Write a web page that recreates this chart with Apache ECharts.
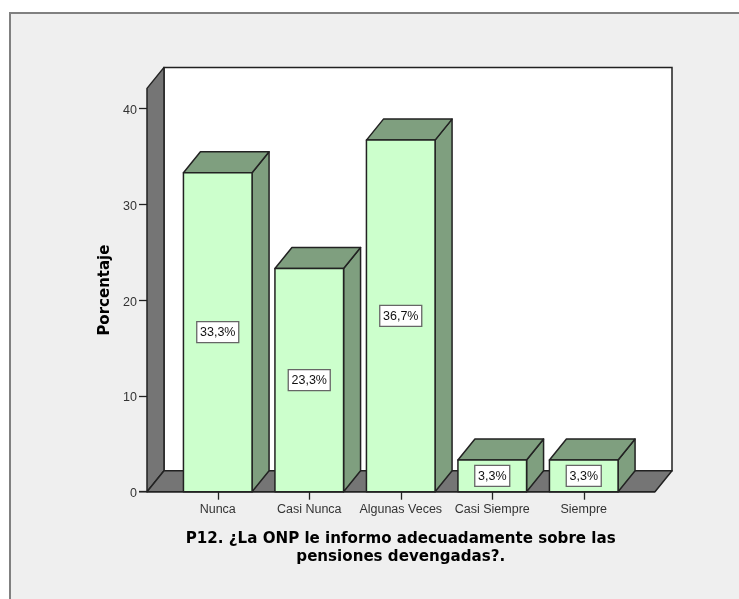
<!DOCTYPE html>
<html><head><meta charset="utf-8">
<style>html,body{margin:0;padding:0;background:#fff}#c{width:739px;height:599px}</style>
<script src="https://cdn.jsdelivr.net/npm/echarts@6/dist/echarts.min.js"></script>
</head><body><div id="c"></div>
<script>
const categories = ['Nunca','Casi Nunca','Algunas Veces','Casi Siempre','Siempre'];
const percentages = [33.3,23.3,36.7,3.3,3.3];
const percentLabels = ['33,3%','23,3%','36,7%','3,3%','3,3%'];
const axisTop = 42.1;
const DX = 17, DY = 21;
const face = '#CCFFCC', shade = '#7F9F7F', wall = '#757575', edge = '#222222';
const chart = echarts.init(document.getElementById('c'), null, {renderer:'canvas'});
function poly(points, fill, z){
  return {type:'polygon', z2:z||1, shape:{points}, style:{fill, stroke:edge, lineWidth:1.5, lineJoin:'round'}};
}
chart.setOption({
  animation:false,
  backgroundColor:'#fff',
  graphic:[{type:'rect', z:-10, shape:{x:10,y:13,width:760,height:620},
    style:{fill:'#EFEFEF', stroke:'#808080', lineWidth:2}}],
  grid:{left:172, top:108.5, width:457.5, height:383.2, containLabel:false},
  xAxis:{type:'category', data:categories,
    axisLine:{show:false}, axisTick:{show:true, alignWithLabel:true, length:8, lineStyle:{color:'#222', width:1.3}},
    axisLabel:{color:'#333', fontFamily:'Liberation Sans', fontSize:12.5, margin:11, interval:0},
    name:'P12. ¿La ONP le informo adecuadamente sobre las\npensiones devengadas?.',
    nameLocation:'middle', nameGap:38,
    nameTextStyle:{color:'#000', fontFamily:'DejaVu Sans', fontWeight:'bold', fontSize:15.1, lineHeight:18}},
  yAxis:{type:'value', min:0, max:40, interval:10, offset:25,
    splitLine:{show:false},
    axisLine:{show:false},
    axisTick:{show:true, length:8, lineStyle:{color:'#222', width:1.3}},
    axisLabel:{margin:10, formatter:'{v|{value}}',
      rich:{v:{color:'#333', fontFamily:'Liberation Sans', fontSize:12.5, padding:[4,0,0,0]}}},
    name:'Porcentaje', nameLocation:'middle', nameGap:17,
    nameTextStyle:{color:'#000', fontFamily:'DejaVu Sans', fontWeight:'bold', fontSize:15, padding:[0,0,0,20]}},
  series:[
    {type:'custom', clip:false, silent:true, z:1, data:[[0]],
      renderItem(params, api){
        const g = params.coordSys;
        const y0 = api.coord([0,0])[1], yT = api.coord([0,axisTop])[1];
        const xL = g.x-25, xR = g.x+g.width+25.5;
        return {type:'group', children:[
          {type:'rect', shape:{x:xL+DX,y:yT-DY,width:xR-xL,height:y0-yT}, style:{fill:'#fff',stroke:edge,lineWidth:1.5}},
          poly([[xL,y0],[xL+DX,y0-DY],[xL+DX,yT-DY],[xL,yT]], wall),
          poly([[xL,y0],[xL+DX,y0-DY],[xR+DX,y0-DY],[xR,y0]], wall),
          {type:'line', shape:{x1:xL-8,y1:y0,x2:xR,y2:y0}, style:{stroke:edge,lineWidth:1.5}}
        ]};
      }},
    {type:'custom', clip:false, silent:true, z:2,
      data:percentages.map((v,i)=>[i,v,percentLabels[i]]),
      dimensions:['cat','pct'],
      encode:{x:0,y:1},
      renderItem(params, api){
        const c = api.value(0), v = api.value(1);
        const p = api.coord([c,v]), b = api.coord([c,0]), mid = api.coord([c,v/2]);
        const w = api.size([1,0])[0]*0.75, x0 = p[0]-w/2, x1 = p[0]+w/2;
        const t = percentLabels[c];
        const bw = t.length>4 ? 42 : 35;
        return {type:'group', children:[
          poly([[x1,b[1]],[x1+DX,b[1]-DY],[x1+DX,p[1]-DY],[x1,p[1]]], shade),
          poly([[x0,p[1]],[x0+DX,p[1]-DY],[x1+DX,p[1]-DY],[x1,p[1]]], shade),
          poly([[x0,b[1]],[x0,p[1]],[x1,p[1]],[x1,b[1]]], face),
          {type:'rect', z2:5, shape:{x:mid[0]-bw/2,y:mid[1]-10.5,width:bw,height:21},
            style:{fill:'#fff',stroke:'#666',lineWidth:1.3}},
          {type:'text', z2:6, style:{text:t,x:mid[0],y:mid[1]+0.5,align:'center',verticalAlign:'middle',
            fill:'#111',fontFamily:'Liberation Sans',fontSize:12.5}}
        ]};
      }}
  ]
});
</script></body></html>
